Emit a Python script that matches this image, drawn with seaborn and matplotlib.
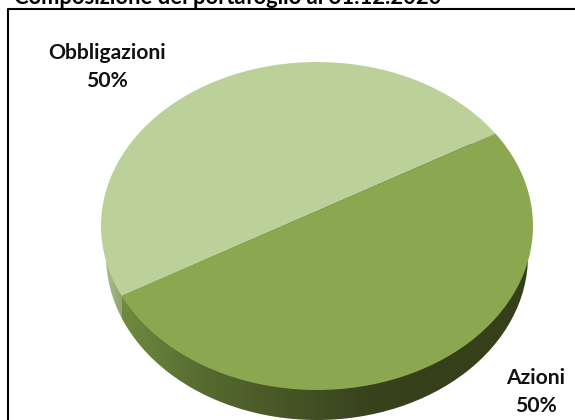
import numpy as np
import matplotlib
matplotlib.use("Agg")
import matplotlib.pyplot as plt
from matplotlib.patches import Ellipse
import seaborn as sns

title = "Composizione del portafoglio al 31.12.2020"
labels = ["Obbligazioni", "Azioni"]
values = [50, 50]
colors = ["#bcd09a", "#8ba750"]

W, H = 575, 420
# top face of the pie, in pixels from the bottom left
cx, cy, rx, ry = 317, H - 226, 216, 164
depth = 30
low_rx = 211
split_x, split_y, split_angle = 309, H - 214.5, 23.5


def side_band(ax, stops, x0, x1, clip):
    cmap = sns.blend_palette(stops, as_cmap=True)
    grad = np.linspace(0, 1, 256).reshape(1, -1)
    im = ax.imshow(grad, cmap=cmap, extent=[x0, x1, 0, H], aspect="auto", zorder=1)
    im.set_clip_path(clip)


def plot_data():
    sns.set_theme(style="white")
    plt.rcParams["font.family"] = ["Lato", "DejaVu Sans"]

    fig = plt.figure(figsize=(W / 100, H / 100), dpi=100)
    ax = fig.add_axes([0, 0, 1, 1])

    # side of the pie: smaller ellipse moved down, shaded left to right
    low = Ellipse((cx, cy - depth), 2 * low_rx, 2 * ry, transform=ax.transData)
    side_band(ax, ["#6f8a40", "#566a30", "#465526", "#38431d", "#35401b", "#35401b"], 122, cx + rx, low)
    side_band(ax, ["#b4c69a", "#8fa66c"], cx - rx, 122, low)

    wedges, _ = ax.pie(values, colors=colors, startangle=split_angle,
                       center=(split_x, split_y), radius=500,
                       wedgeprops={"linewidth": 0})
    top = Ellipse((cx, cy), 2 * rx, 2 * ry, transform=ax.transData)
    for w in wedges:
        w.set_clip_on(True)
        w.set_clip_path(top)
        w.set_zorder(2)

    ax.set_aspect("auto")
    ax.set_xlim(0, W)
    ax.set_ylim(0, H)
    ax.axis("off")

    # frame around the chart, runs off the right and bottom of the picture
    ax.plot([7.5, 7.5, W], [0, H - 8.5, H - 8.5], color="black", lw=1.5, zorder=3)

    ax.text(14, H - 4, title, fontsize=15.8, fontweight="bold", color="black",
            ha="left", va="baseline", zorder=4)
    ax.text(107, H - 67, f"{labels[0]}\n{values[0]}%", fontsize=15.2, fontweight="bold",
            color="#111111", ha="center", va="center", linespacing=1.5, zorder=4)
    ax.text(536, H - 392, f"{labels[1]}\n{values[1]}%", fontsize=15.2, fontweight="bold",
            color="#111111", ha="center", va="center", linespacing=1.5, zorder=4)

    fig.savefig("out.png", dpi=100, facecolor="white")


if __name__ == "__main__":
    plot_data()
